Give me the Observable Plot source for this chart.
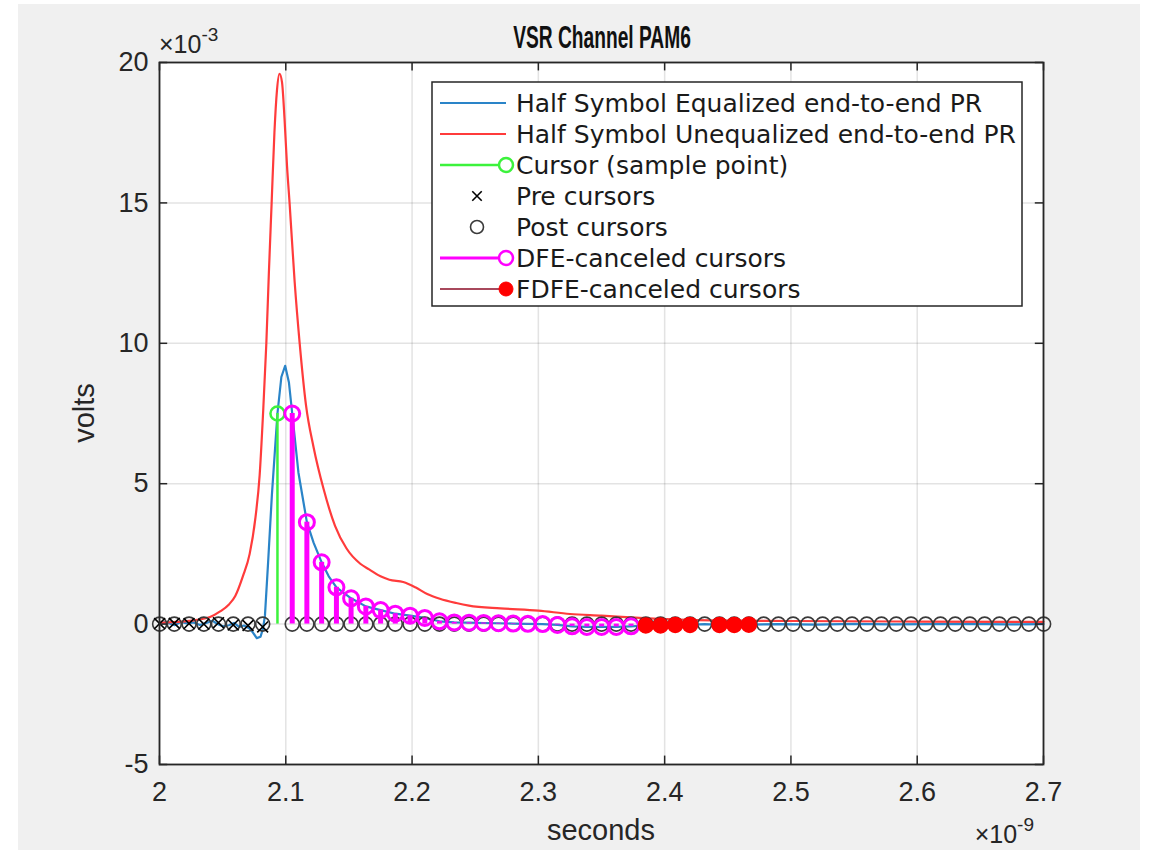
<!DOCTYPE html>
<html>
<head>
<meta charset="utf-8">
<script src="https://cdn.jsdelivr.net/npm/d3@7"></script>
<script src="https://cdn.jsdelivr.net/npm/@observablehq/plot@0.6"></script>
<style>
  html, body { margin: 0; padding: 0; background: #ffffff; }
  #chart svg { display: block; }
</style>
</head>
<body>
<div id="chart"></div>
<script>
// Axis ticks (x in ns, y in mV)
const xTicks = [2.0, 2.1, 2.2, 2.3, 2.4, 2.5, 2.6, 2.7];
const yTicks = [-5, 0, 5, 10, 15, 20];

// Half symbol equalized end-to-end pulse response
const eqTimes = [2.000, 2.004, 2.008, 2.012, 2.017, 2.022, 2.027, 2.032, 2.037, 2.042, 2.046, 2.050,
  2.055, 2.059, 2.063, 2.067, 2.071, 2.074, 2.077, 2.080, 2.082, 2.0835, 2.086, 2.089, 2.0934,
  2.0965, 2.0995, 2.1025, 2.1051, 2.110, 2.1167, 2.122, 2.1284, 2.134, 2.1401, 2.1517, 2.1634,
  2.1751, 2.1867, 2.1984, 2.2101, 2.2217, 2.2334, 2.2451, 2.2567, 2.2684, 2.2801, 2.2917, 2.3034,
  2.3151, 2.3267, 2.3384, 2.3501, 2.3617, 2.3734, 2.3851, 2.3967, 2.4084, 2.4201, 2.4317, 2.4434,
  2.4551, 2.4667, 2.490, 2.520, 2.550, 2.580, 2.610, 2.640, 2.670, 2.700];
const eqValues = [0.00, 0.06, 0.02, -0.04, 0.08, 0.02, 0.06, -0.03, 0.04, 0.12, 0.00, -0.08,
  -0.04, 0.04, -0.10, -0.05, -0.15, -0.30, -0.50, -0.45, -0.15, 0.30, 2.2, 4.6, 7.5,
  8.8, 9.2, 8.6, 7.5, 5.4, 3.63, 2.9, 2.2, 1.7, 1.31, 0.92, 0.63,
  0.50, 0.37, 0.30, 0.22, 0.10, 0.06, 0.05, 0.04, 0.03, 0.02, 0.01, 0.00,
  -0.03, -0.08, -0.10, -0.10, -0.10, -0.08, -0.05, -0.05, -0.03, -0.03, 0.00, -0.03,
  -0.03, -0.02, 0.00, -0.02, 0.01, -0.01, 0.00, 0.01, -0.01, 0.00];

// Half symbol unequalized end-to-end pulse response
const uneqTimes = [2.000, 2.010, 2.020, 2.030, 2.040, 2.048, 2.055, 2.060, 2.066, 2.0714, 2.076,
  2.0793, 2.082, 2.0846, 2.0866, 2.0888, 2.091, 2.093, 2.095, 2.097, 2.099, 2.101, 2.103, 2.107,
  2.111, 2.116, 2.122, 2.130, 2.139, 2.148, 2.159, 2.166, 2.175, 2.182, 2.193, 2.203, 2.212,
  2.222, 2.235, 2.245, 2.270, 2.300, 2.325, 2.350, 2.380, 2.420, 2.500, 2.600, 2.700];
const uneqValues = [0.05, 0.07, 0.10, 0.15, 0.25, 0.45, 0.70, 1.00, 1.70, 2.50, 3.80,
  5.30, 7.50, 10.0, 12.5, 15.0, 17.5, 19.0, 19.6, 19.3, 18.0, 16.3, 15.0, 12.2,
  10.0, 7.8, 6.3, 4.8, 3.5, 2.7, 2.15, 1.95, 1.70, 1.58, 1.50, 1.30, 1.07,
  0.90, 0.75, 0.66, 0.56, 0.48, 0.36, 0.30, 0.22, 0.15, 0.11, 0.09, 0.08];

// Main cursor (sample point)
const cursorTimes = [2.0934];
const cursorValues = [7.5];

// Pre cursors
const preTimes = [2.0001, 2.0117, 2.0234, 2.0351, 2.0467, 2.0584, 2.0701, 2.0817];
const preValues = [0.02, 0.03, 0.02, 0.00, 0.05, -0.03, -0.05, -0.10];

// Post cursors (residual after cancellation)
const postTimes = [2.1051, 2.1167, 2.1284, 2.1401, 2.1517, 2.1634, 2.1751, 2.1867, 2.1984, 2.2101,
  2.2217, 2.2334, 2.2451, 2.2567, 2.2684, 2.2801, 2.2917, 2.3034, 2.3151, 2.3267, 2.3384, 2.3501,
  2.3617, 2.3734, 2.3851, 2.3967, 2.4084, 2.4201, 2.4317, 2.4434, 2.4551, 2.4667, 2.4784, 2.4901,
  2.5017, 2.5134, 2.5251, 2.5367, 2.5484, 2.5601, 2.5717, 2.5834, 2.5951, 2.6067, 2.6184, 2.6301,
  2.6417, 2.6534, 2.6651, 2.6767, 2.6884, 2.7001];
const postValues = [0, 0, 0, 0, 0, 0, 0, 0, 0, 0, 0, 0, 0, 0, 0, 0, 0, 0, 0, 0, 0, 0, 0, 0, 0, 0,
  0, 0, 0, 0, 0, 0, 0, 0, 0, 0, 0, 0, 0, 0, 0, 0, 0, 0, 0, 0, 0, 0, 0, 0, 0, 0];

// DFE-canceled cursors
const dfeTimes = [2.1051, 2.1167, 2.1284, 2.1401, 2.1517, 2.1634, 2.1751, 2.1867, 2.1984, 2.2101,
  2.2217, 2.2334, 2.2451, 2.2567, 2.2684, 2.2801, 2.2917, 2.3034, 2.3151, 2.3267, 2.3384, 2.3501,
  2.3617, 2.3734];
const dfeValues = [7.5, 3.63, 2.2, 1.31, 0.92, 0.63, 0.50, 0.37, 0.30, 0.22,
  0.10, 0.06, 0.05, 0.04, 0.03, 0.02, 0.01, 0.00, -0.03, -0.08, -0.10, -0.10,
  -0.10, -0.08];

// FDFE-canceled cursors
const fdfeTimes = [2.3851, 2.3967, 2.4084, 2.4201, 2.4434, 2.4551, 2.4667];
const fdfeValues = [-0.05, -0.05, -0.03, -0.03, -0.03, -0.03, -0.02];

const zip = (xs, ys) => xs.map((x, i) => ({x, y: ys[i]}));
const eq = zip(eqTimes, eqValues);
const uneq = zip(uneqTimes, uneqValues);
const cursor = zip(cursorTimes, cursorValues);
const pre = zip(preTimes, preValues);
const post = zip(postTimes, postValues);
const dfe = zip(dfeTimes, dfeValues);
const fdfe = zip(fdfeTimes, fdfeValues);

const C = {
  eq: "#2a84c8",
  uneq: "#ff3b3b",
  cursor: "#3cf23c",
  dfe: "#ff00ff",
  fdfeStem: "#a8485c",
  fdfeDot: "#ff0000",
  ring: "#3a3a3a",
  ink: "#262626"
};

const xMin = 2.0, xMax = 2.7, yMin = -5, yMax = 20;
const tickLenX = 0.0065; // in ns, inward tick length on left/right
const tickLenY = 0.30;   // in mV, inward tick length on top/bottom

const sans = "'Liberation Sans', Arial, sans-serif";

const chart = Plot.plot({
  width: 1158,
  height: 853,
  marginLeft: 159,
  marginRight: 115,
  marginTop: 62,
  marginBottom: 89,
  x: {domain: [xMin, xMax]},
  y: {domain: [yMin, yMax]},
  style: {
    background: "transparent",
    fontFamily: sans,
    fontSize: "27px",
    color: C.ink,
    overflow: "visible"
  },
  marks: [
    Plot.frame({fill: "white", stroke: "none"}),
    Plot.gridX(xTicks, {stroke: C.ink, strokeOpacity: 0.13, strokeWidth: 1.5}),
    Plot.gridY(yTicks, {stroke: C.ink, strokeOpacity: 0.13, strokeWidth: 1.5}),

    Plot.line(eq, {x: "x", y: "y", stroke: C.eq, strokeWidth: 2.2}),
    Plot.line(uneq, {x: "x", y: "y", stroke: C.uneq, strokeWidth: 2.2, curve: "monotone-x"}),

    Plot.ruleX(cursor, {x: "x", y1: 0, y2: "y", stroke: C.cursor, strokeWidth: 2.5}),
    Plot.dot(cursor, {x: "x", y: "y", r: 7, stroke: C.cursor, strokeWidth: 2.5, fill: "none"}),

    Plot.dot(pre, {x: "x", y: 0, r: 7, stroke: C.ring, strokeWidth: 1.6, fill: "none"}),
    Plot.dot(pre, {x: "x", y: "y", symbol: "times", r: 5, stroke: "#000", strokeWidth: 1.6}),
    Plot.dot(post, {x: "x", y: "y", r: 7, stroke: C.ring, strokeWidth: 1.6, fill: "none"}),

    Plot.ruleX(dfe, {x: "x", y1: 0, y2: "y", stroke: C.dfe, strokeWidth: 5}),
    Plot.dot(dfe, {x: "x", y: "y", r: 7.5, stroke: C.dfe, strokeWidth: 3, fill: "none"}),

    Plot.ruleX(fdfe, {x: "x", y1: 0, y2: "y", stroke: C.fdfeStem, strokeWidth: 2}),
    Plot.dot(fdfe, {x: "x", y: "y", r: 7.5, fill: C.fdfeDot, stroke: C.fdfeDot}),

    // inward ticks on all four sides of the box
    Plot.ruleX(xTicks, {x: d => d, y1: yMin, y2: yMin + tickLenY, stroke: C.ink, strokeWidth: 1.5}),
    Plot.ruleX(xTicks, {x: d => d, y1: yMax, y2: yMax - tickLenY, stroke: C.ink, strokeWidth: 1.5}),
    Plot.ruleY(yTicks, {y: d => d, x1: xMin, x2: xMin + tickLenX, stroke: C.ink, strokeWidth: 1.5}),
    Plot.ruleY(yTicks, {y: d => d, x1: xMax, x2: xMax - tickLenX, stroke: C.ink, strokeWidth: 1.5}),
    Plot.frame({stroke: C.ink, strokeWidth: 1.8}),

    Plot.axisX(xTicks, {tickSize: 0, tickPadding: 17, label: null, fill: C.ink,
      tickFormat: d => String(+d.toFixed(1))}),
    Plot.axisY(yTicks, {tickSize: 0, tickPadding: 11, label: null, fill: C.ink,
      tickFormat: d => String(d)})
  ]
});

document.getElementById("chart").appendChild(chart);

const svg = d3.select(chart);

// figure panel behind the axes
svg.insert("rect", ":first-child")
  .attr("x", 18).attr("y", 4).attr("width", 1122).attr("height", 846)
  .attr("fill", "#f0f0f0");

// title
svg.append("text")
  .attr("transform", "translate(602,48) scale(0.6,1)")
  .attr("text-anchor", "middle")
  .attr("font-family", sans).attr("font-weight", "bold").attr("font-size", 32)
  .attr("fill", "#111")
  .text("VSR Channel PAM6");

// exponent labels
function exponent(x, y, power, anchor) {
  const t = svg.append("text")
    .attr("x", x).attr("y", y)
    .attr("text-anchor", anchor)
    .attr("font-family", sans).attr("font-size", 25)
    .attr("fill", C.ink);
  t.append("tspan").text("×10");
  t.append("tspan").attr("dy", -12).attr("font-size", 19).text(power);
}
exponent(159, 53, "-3", "start");
exponent(1034, 843, "-9", "end");

// axis labels
svg.append("text")
  .attr("x", 601).attr("y", 840)
  .attr("text-anchor", "middle")
  .attr("font-family", sans).attr("font-size", 29)
  .attr("fill", C.ink)
  .text("seconds");
svg.append("text")
  .attr("transform", "translate(94,413) rotate(-90)")
  .attr("text-anchor", "middle")
  .attr("font-family", sans).attr("font-size", 29)
  .attr("fill", C.ink)
  .text("volts");

// legend
const lg = svg.append("g");
lg.append("rect")
  .attr("x", 432).attr("y", 82).attr("width", 590).attr("height", 224)
  .attr("fill", "white").attr("stroke", C.ink).attr("stroke-width", 1.5);

const legendItems = [
  {label: "Half Symbol Equalized end-to-end PR", line: C.eq, lw: 2.2},
  {label: "Half Symbol Unequalized end-to-end PR", line: C.uneq, lw: 2.2},
  {label: "Cursor (sample point)", line: C.cursor, lw: 2.5, marker: "ring", mcolor: C.cursor, mpos: "end"},
  {label: "Pre cursors", marker: "times", mcolor: "#000", mpos: "mid"},
  {label: "Post cursors", marker: "ring", mcolor: C.ring, mpos: "mid", thin: true},
  {label: "DFE-canceled cursors", line: C.dfe, lw: 3, marker: "ring", mcolor: C.dfe, mpos: "end"},
  {label: "FDFE-canceled cursors", line: C.fdfeStem, lw: 2, marker: "disc", mcolor: C.fdfeDot, mpos: "end"}
];

legendItems.forEach((d, i) => {
  const y = 103 + i * 31;
  const x0 = 440, x1 = 506;
  if (d.line) {
    lg.append("line").attr("x1", x0).attr("x2", x1).attr("y1", y).attr("y2", y)
      .attr("stroke", d.line).attr("stroke-width", d.lw);
  }
  const mx = d.mpos === "end" ? x1 : (x0 + x1) / 2 + 4;
  if (d.marker === "ring") {
    lg.append("circle").attr("cx", mx).attr("cy", y).attr("r", d.thin ? 6.5 : 7)
      .attr("fill", "white").attr("stroke", d.mcolor).attr("stroke-width", d.thin ? 1.6 : 2.5);
  } else if (d.marker === "disc") {
    lg.append("circle").attr("cx", mx).attr("cy", y).attr("r", 7)
      .attr("fill", d.mcolor).attr("stroke", d.mcolor);
  } else if (d.marker === "times") {
    lg.append("path").attr("d", d3.symbol(d3.symbolTimes, 60)())
      .attr("transform", `translate(${mx},${y})`)
      .attr("stroke", d.mcolor).attr("stroke-width", 1.6).attr("fill", "none");
  }
  lg.append("text")
    .attr("x", 516).attr("y", y)
    .attr("dy", "0.35em")
    .attr("text-anchor", "start")
    .attr("font-family", "'DejaVu Sans', sans-serif").attr("font-size", 25)
    .attr("fill", "#1a1a1a")
    .text(d.label);
});
</script>
</body>
</html>
